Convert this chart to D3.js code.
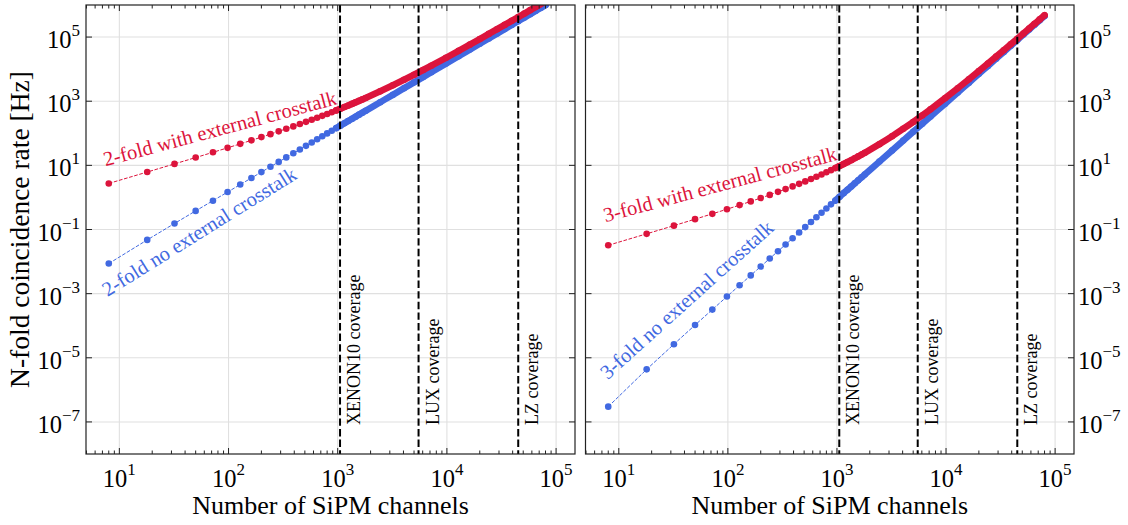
<!DOCTYPE html>
<html>
<head>
<meta charset="utf-8">
<script src="https://cdn.jsdelivr.net/npm/d3@7"></script>
<style>
  body { margin: 0; background: #fff; }
  svg { display: block; font-family: "Liberation Serif", "DejaVu Serif", serif; }
</style>
</head>
<body>
<div id="container"></div>
<script>
/* DATA */
const channels = [8, 18, 32, 50, 72, 98, 128, 162, 200, 242, 288, 338, 392, 450, 512, 578, 648, 722, 800, 882, 968,
  1058, 1152, 1250, 1352, 1458, 1568, 1682, 1800, 2450, 3200, 4050, 5000, 6050, 7200, 9800, 12800, 16200, 20000,
  24200, 28800, 33800, 39200, 45000, 51200, 57800, 64800, 72200, 80000]

const twoFoldNoXT = [0.00868, 0.0474, 0.154, 0.380, 0.792, 1.47, 2.52, 4.04, 6.17, 9.04, 12.8, 17.7, 23.8, 31.3, 40.6,
  51.7, 65.0, 80.7, 99.1, 120, 145, 173, 206, 242, 283, 329, 381, 438, 502, 930, 1587, 2542, 3875, 5673, 8035,
  14886, 25395, 40677, 62000, 90774, 128563, 177080, 238179, 313875, 406323, 517832, 650849, 807987, 992000]

const twoFoldXT = [2.73, 6.19, 11.1, 17.5, 25.5, 35.2, 46.8, 60.3, 76.0, 94.0, 115, 138, 164, 194, 227, 263, 304, 350,
  400, 455, 517, 584, 657, 738, 825, 921, 1025, 1138, 1260, 2034, 3136, 4658, 6700, 9377, 12816, 22540, 37120,
  57996, 86800, 125356, 175680, 239980, 320656, 420300, 541696, 687820, 861840, 1067116, 1307200]

const threeFoldNoXT = [2.99e-7, 4.36e-6, 2.65e-5, 1.05e-4, 3.18e-4, 8.12e-4, 1.82e-3, 3.71e-3, 7.01e-3, 1.25e-2,
  2.10e-2, 3.41e-2, 5.32e-2, 8.06e-2, 0.119, 0.171, 0.241, 0.334, 0.454, 0.609, 0.805, 1.05, 1.36, 1.73, 2.19, 2.75,
  3.42, 4.23, 5.18, 13.1, 29.2, 59.1, 111, 197, 332, 838, 1866, 3784, 7120, 12614, 21261, 34367, 53610, 81101,
  119456, 171859, 242169, 334960, 455680]

const threeFoldXT = [0.0322, 0.0733, 0.132, 0.210, 0.308, 0.429, 0.576, 0.751, 0.959, 1.20, 1.49, 1.82, 2.21, 2.65,
  3.16, 3.75, 4.43, 5.20, 6.09, 7.09, 8.24, 9.54, 11.0, 12.7, 14.5, 16.7, 19.0, 21.7, 24.7, 45.7, 80.9, 138, 226, 360,
  558, 1242, 2540, 4846, 8720, 14936, 24528, 38843, 59606, 88976, 129622, 184785, 258385, 355058, 480320]

const coverageNames = ["XENON10 coverage", "LUX coverage", "LZ coverage"]
const coverageChannels = [1050, 5500, 45000]

const xTicks = [1e1, 1e2, 1e3, 1e4, 1e5]
const yTicks = [1e-7, 1e-5, 1e-3, 1e-1, 1e1, 1e3, 1e5]

/* CONSTANTS */
const width = 1128, height = 525
const plotTop = 5, plotBottom = 454
const red = "#DC143C", blue = "#4169E1"
const panels = [
  { x0: 86, x1: 575, side: "left",
    series: [
      { y: twoFoldNoXT, color: blue, label: "2-fold no external crosstalk", lx: 7.8, ly: 7.8e-4, angle: -32 },
      { y: twoFoldXT, color: red, label: "2-fold with external crosstalk", lx: 7.45, ly: 9.3, angle: -15 }
    ] },
  { x0: 585.5, x1: 1074, side: "right",
    series: [
      { y: threeFoldNoXT, color: blue, label: "3-fold no external crosstalk", lx: 7.9, ly: 2.0e-6, angle: -42 },
      { y: threeFoldXT, color: red, label: "3-fold with external crosstalk", lx: 7.55, ly: 0.169, angle: -15 }
    ] }
]

const svg = d3.select("#container").append("svg")
  .attr("width", width).attr("height", height)

const supText = (sel, v) => {
  const e = Math.round(Math.log10(v))
  sel.append("tspan").text("10")
  sel.append("tspan").attr("dy", -12).attr("font-size", 17)
    .text(e < 0 ? "\u2212" + Math.abs(e) : e)
}

panels.forEach((p, i) => {
  const xScale = d3.scaleLog().domain([4.95, 1.49e5]).range([p.x0, p.x1])
  const yScale = d3.scaleLog().domain([1e-8, 1e6]).range([plotBottom, plotTop])
  const g = svg.append("g")

  g.append("clipPath").attr("id", "clip" + i)
    .append("rect").attr("x", p.x0).attr("y", plotTop).attr("width", p.x1 - p.x0).attr("height", plotBottom - plotTop)

  /* grid */
  g.selectAll(".gx").data(xTicks).join("line")
    .attr("x1", d => xScale(d)).attr("x2", d => xScale(d)).attr("y1", plotTop).attr("y2", plotBottom)
    .attr("stroke", "#e0e0e0").attr("stroke-width", 1.1)
  g.selectAll(".gy").data(yTicks).join("line")
    .attr("y1", d => yScale(d)).attr("y2", d => yScale(d)).attr("x1", p.x0).attr("x2", p.x1)
    .attr("stroke", "#e0e0e0").attr("stroke-width", 1.1)

  const plot = g.append("g").attr("clip-path", `url(#clip${i})`)

  /* curves */
  p.series.forEach(s => {
    const pts = channels.map((c, k) => ({ x: c, y: s.y[k] }))
    const line = d3.line().x(d => xScale(d.x)).y(d => yScale(d.y))
    plot.append("path").datum(pts).attr("d", line)
      .attr("fill", "none").attr("stroke", s.color).attr("stroke-width", 1)
      .attr("stroke-dasharray", "3.7,1.6")
    plot.append("path").datum(pts.filter(d => d.x >= 968))
      .attr("d", line.curve(d3.curveMonotoneX))
      .attr("fill", "none").attr("stroke", s.color).attr("stroke-width", 6.6)
      .attr("stroke-linecap", "round").attr("stroke-linejoin", "round")
    plot.selectAll(null).data(pts).join("circle")
      .attr("cx", d => xScale(d.x)).attr("cy", d => yScale(d.y)).attr("r", 3.3)
      .attr("fill", s.color)
  })

  /* coverage lines */
  coverageChannels.forEach((c, k) => {
    plot.append("line")
      .attr("x1", xScale(c)).attr("x2", xScale(c)).attr("y1", plotTop).attr("y2", plotBottom)
      .attr("stroke", "#000").attr("stroke-width", 2).attr("stroke-dasharray", "7.4,3.2")
    g.append("text")
      .attr("transform", `translate(${xScale(c) + 20},${yScale(1e-7) + 3}) rotate(-90)`)
      .attr("font-size", 18).attr("fill", "#000")
      .text(coverageNames[k])
  })

  /* curve labels */
  p.series.forEach(s => {
    g.append("text")
      .attr("transform", `translate(${xScale(s.lx)},${yScale(s.ly)}) rotate(${s.angle})`)
      .attr("font-size", 20.5).attr("fill", s.color)
      .text(s.label)
  })

  /* frame */
  g.append("rect").attr("x", p.x0).attr("y", plotTop).attr("width", p.x1 - p.x0).attr("height", plotBottom - plotTop)
    .attr("fill", "none").attr("stroke", "#222").attr("stroke-width", 1.2)

  /* ticks (inward, all sides) */
  const minor = []
  for (let e = 0; e <= 5; e++) for (let m = 2; m <= 9; m++) {
    const v = m * Math.pow(10, e)
    if (v > 4.95 && v < 1.49e5) minor.push(v)
  }
  const tickG = g.append("g").attr("stroke", "#222").attr("stroke-width", 1)
  ;[[xTicks, 6], [minor, 3.5]].forEach(([vals, len]) => {
    vals.forEach(v => {
      const x = xScale(v)
      tickG.append("line").attr("x1", x).attr("x2", x).attr("y1", plotBottom).attr("y2", plotBottom - len)
      tickG.append("line").attr("x1", x).attr("x2", x).attr("y1", plotTop).attr("y2", plotTop + len)
    })
  })
  yTicks.forEach(v => {
    const y = yScale(v)
    tickG.append("line").attr("x1", p.x0).attr("x2", p.x0 + 6).attr("y1", y).attr("y2", y)
    tickG.append("line").attr("x1", p.x1).attr("x2", p.x1 - 6).attr("y1", y).attr("y2", y)
  })

  /* tick labels */
  xTicks.forEach(v => {
    const t = g.append("text").attr("x", xScale(v)).attr("y", plotBottom + 33)
      .attr("font-size", 24.5).attr("text-anchor", "middle")
    supText(t, v)
  })
  yTicks.forEach(v => {
    const t = g.append("text")
      .attr("x", p.side === "left" ? p.x0 - 6 : p.x1 + 4)
      .attr("y", yScale(v) + 11)
      .attr("font-size", 24.5).attr("text-anchor", p.side === "left" ? "end" : "start")
    supText(t, v)
  })

  /* x label */
  g.append("text").attr("x", (p.x0 + p.x1) / 2).attr("y", 514)
    .attr("font-size", 26).attr("text-anchor", "middle")
    .text("Number of SiPM channels")
})

svg.append("text")
  .attr("transform", `translate(29,${(plotTop + plotBottom) / 2}) rotate(-90)`)
  .attr("font-size", 27.5).attr("text-anchor", "middle")
  .text("N-fold coincidence rate [Hz]")
</script>
</body>
</html>
